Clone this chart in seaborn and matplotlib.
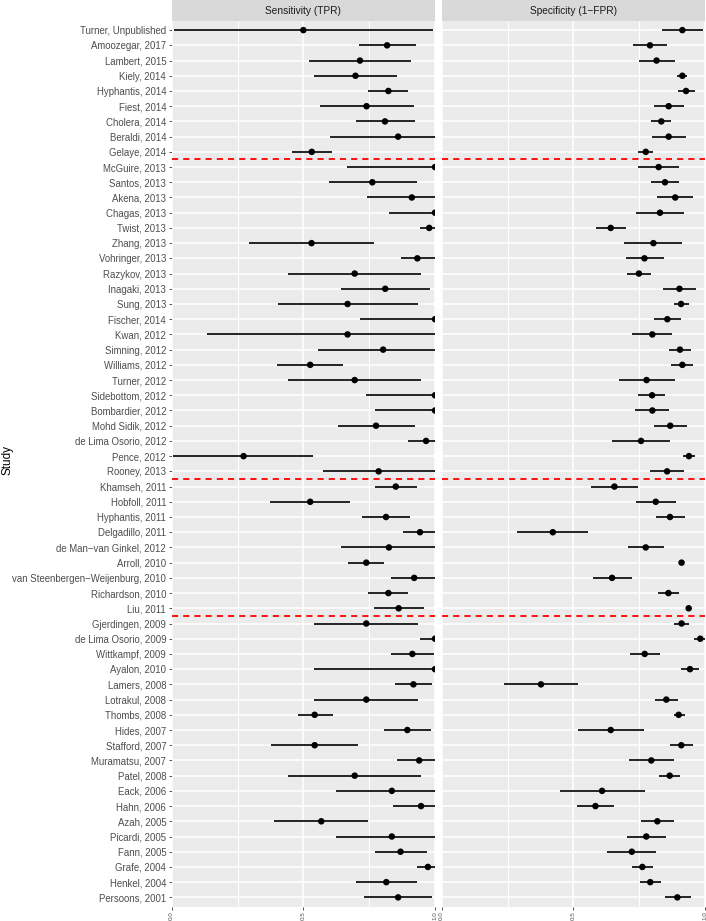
"""
Forest plot of per-study sensitivity and specificity, ggplot-like look.
"""

import numpy as np
import pandas as pd
import matplotlib
matplotlib.use("Agg")
import matplotlib.pyplot as plt
import seaborn as sns

studies = [
    "Turner, Unpublished", "Amoozegar, 2017", "Lambert, 2015", "Kiely, 2014",
    "Hyphantis, 2014", "Fiest, 2014", "Cholera, 2014", "Beraldi, 2014",
    "Gelaye, 2014", "McGuire, 2013", "Santos, 2013", "Akena, 2013",
    "Chagas, 2013", "Twist, 2013", "Zhang, 2013", "Vohringer, 2013",
    "Razykov, 2013", "Inagaki, 2013", "Sung, 2013", "Fischer, 2014",
    "Kwan, 2012", "Simning, 2012", "Williams, 2012", "Turner, 2012",
    "Sidebottom, 2012", "Bombardier, 2012", "Mohd Sidik, 2012",
    "de Lima Osorio, 2012", "Pence, 2012", "Rooney, 2013", "Khamseh, 2011",
    "Hobfoll, 2011", "Hyphantis, 2011", "Delgadillo, 2011",
    "de Man\u2212van Ginkel, 2012", "Arroll, 2010",
    "van Steenbergen\u2212Weijenburg, 2010", "Richardson, 2010", "Liu, 2011",
    "Gjerdingen, 2009", "de Lima Osorio, 2009", "Wittkampf, 2009",
    "Ayalon, 2010", "Lamers, 2008", "Lotrakul, 2008", "Thombs, 2008",
    "Hides, 2007", "Stafford, 2007", "Muramatsu, 2007", "Patel, 2008",
    "Eack, 2006", "Hahn, 2006", "Azah, 2005", "Picardi, 2005", "Fann, 2005",
    "Grafe, 2004", "Henkel, 2004", "Persoons, 2001",
]

# number of studies in each block (red dashed separators between blocks)
group_sizes = [9, 21, 9, 19]

sens = [0.50, 0.818, 0.715, 0.698, 0.823, 0.740, 0.810, 0.860, 0.532, 1.0,
        0.762, 0.912, 1.0, 0.978, 0.531, 0.933, 0.695, 0.811, 0.668, 1.0,
        0.668, 0.803, 0.526, 0.695, 1.0, 1.0, 0.776, 0.966, 0.273, 0.786,
        0.851, 0.526, 0.814, 0.943, 0.825, 0.739, 0.921, 0.823, 0.862,
        0.739, 1.0, 0.914, 1.0, 0.918, 0.739, 0.543, 0.895, 0.543, 0.940,
        0.695, 0.836, 0.947, 0.568, 0.836, 0.869, 0.973, 0.815, 0.860]
sens_lo = [0.01, 0.711, 0.523, 0.542, 0.747, 0.563, 0.700, 0.600, 0.457, 0.667,
           0.597, 0.742, 0.827, 0.943, 0.293, 0.871, 0.443, 0.644, 0.403, 0.717,
           0.133, 0.554, 0.401, 0.443, 0.739, 0.771, 0.630, 0.898, 0.005, 0.573,
           0.772, 0.375, 0.723, 0.880, 0.644, 0.670, 0.834, 0.747, 0.767,
           0.540, 0.943, 0.832, 0.542, 0.848, 0.541, 0.479, 0.808, 0.378, 0.856,
           0.443, 0.623, 0.842, 0.390, 0.623, 0.771, 0.933, 0.700, 0.730]
sens_hi = [0.993, 0.927, 0.910, 0.856, 0.899, 0.921, 0.923, 1.0, 0.610, 1.0,
           0.930, 1.0, 1.0, 0.999, 0.768, 0.999, 0.945, 0.980, 0.935, 1.0,
           1.0, 1.0, 0.650, 0.945, 1.0, 1.0, 0.923, 1.0, 0.537, 1.0,
           0.930, 0.677, 0.905, 1.0, 1.0, 0.808, 1.0, 0.899, 0.959,
           0.937, 1.0, 0.997, 1.0, 0.989, 0.937, 0.611, 0.985, 0.709, 1.0,
           0.946, 1.0, 1.0, 0.747, 1.0, 0.969, 1.0, 0.933, 0.989]

spec = [0.914, 0.791, 0.816, 0.914, 0.928, 0.862, 0.834, 0.862, 0.775, 0.824,
        0.848, 0.887, 0.829, 0.642, 0.804, 0.770, 0.749, 0.903, 0.909, 0.857,
        0.800, 0.905, 0.914, 0.778, 0.799, 0.800, 0.868, 0.757, 0.939, 0.856,
        0.656, 0.813, 0.867, 0.422, 0.775, 0.911, 0.647, 0.861, 0.938,
        0.911, 0.982, 0.771, 0.943, 0.377, 0.853, 0.900, 0.642, 0.910, 0.796,
        0.866, 0.609, 0.584, 0.819, 0.777, 0.722, 0.762, 0.792, 0.895]
spec_lo = [0.835, 0.728, 0.749, 0.894, 0.897, 0.806, 0.795, 0.797, 0.746, 0.746,
           0.794, 0.818, 0.739, 0.586, 0.694, 0.699, 0.704, 0.839, 0.881, 0.806,
           0.724, 0.862, 0.871, 0.673, 0.747, 0.735, 0.808, 0.648, 0.916, 0.791,
           0.566, 0.738, 0.813, 0.287, 0.709, 0.905, 0.573, 0.822, 0.933,
           0.884, 0.959, 0.715, 0.908, 0.235, 0.810, 0.881, 0.518, 0.867, 0.711,
           0.827, 0.451, 0.515, 0.758, 0.704, 0.629, 0.723, 0.752, 0.847]
spec_hi = [0.994, 0.857, 0.885, 0.933, 0.961, 0.919, 0.872, 0.927, 0.804, 0.901,
           0.901, 0.956, 0.922, 0.699, 0.913, 0.843, 0.795, 0.967, 0.938, 0.908,
           0.875, 0.948, 0.954, 0.885, 0.849, 0.865, 0.930, 0.867, 0.963, 0.922,
           0.747, 0.889, 0.923, 0.556, 0.843, 0.917, 0.722, 0.901, 0.943,
           0.939, 1.0, 0.828, 0.978, 0.519, 0.896, 0.923, 0.767, 0.956, 0.884,
           0.905, 0.771, 0.654, 0.882, 0.851, 0.814, 0.803, 0.832, 0.946]

panels = ["Sensitivity (TPR)", "Specificity (1\u2212FPR)"]
x_ticks = [0.0, 0.5, 1.0]
x_tick_labels = ["0.0", "0.5", "1.0"]

df = pd.concat([
    pd.DataFrame({"study": studies, "row": np.arange(len(studies)),
                  "panel": panels[0], "est": sens, "lo": sens_lo, "hi": sens_hi}),
    pd.DataFrame({"study": studies, "row": np.arange(len(studies)),
                  "panel": panels[1], "est": spec, "lo": spec_lo, "hi": spec_hi}),
])

sns.set_theme(style="darkgrid")
plt.rcParams["font.family"] = ["Liberation Sans", "DejaVu Sans"]

W, H = 706, 921
fig = plt.figure(figsize=(W / 100, H / 100), dpi=100)

panel_top, panel_bot = 21, 906.5
strip_h = 21
lefts = [171.7, 441.7]
pw = 263.3

sep_rows = np.cumsum(group_sizes)[:-1] - 0.5
n = len(studies)

for i, name in enumerate(panels):
    ax = fig.add_axes([lefts[i] / W, 1 - panel_bot / H, pw / W,
                       (panel_bot - panel_top) / H])
    ax.set_facecolor("#EBEBEB")
    sub = df[df["panel"] == name]

    ax.hlines(sub["row"], sub["lo"], sub["hi"], color="black", lw=1.2, zorder=3)
    sns.scatterplot(data=sub, x="est", y="row", ax=ax, color="black", s=22,
                    edgecolor="none", zorder=4, legend=False)
    for r in sep_rows:
        ax.axhline(r, color="red", lw=1.3, ls=(0, (3.4, 2.8)), zorder=5)

    ax.set_xlim(0, 1)
    ax.set_ylim(n - 0.4, -0.6)
    ax.grid(False)
    for v in [0.25, 0.75]:
        ax.axvline(v, color="white", lw=0.8, zorder=1)
    for v in x_ticks:
        ax.axvline(v, color="white", lw=1.1, zorder=1)
    for r in range(n):
        ax.axhline(r, color="white", lw=1.1, zorder=1)

    ax.set_xticks(x_ticks)
    ax.set_xticklabels(x_tick_labels, rotation=90, fontsize=4.5, color="#4D4D4D")
    ax.tick_params(axis="x", length=2.2, width=0.6, color="#333333", pad=1.5,
                   bottom=True)
    ax.set_xlabel("")
    ax.set_yticks(np.arange(n))
    if i == 0:
        ax.set_yticklabels(studies, fontsize=6.9, color="#4D4D4D")
        ax.tick_params(axis="y", length=2.5, width=0.6, color="#333333", pad=1.5,
                       left=True)
    else:
        ax.set_yticklabels([])
        ax.tick_params(axis="y", length=0)
    ax.set_ylabel("")
    for s in ax.spines.values():
        s.set_visible(False)

    # facet strip
    sax = fig.add_axes([lefts[i] / W, 1 - panel_top / H, pw / W, strip_h / H])
    sax.set_facecolor("#D9D9D9")
    sax.set_xticks([])
    sax.set_yticks([])
    sax.grid(False)
    for s in sax.spines.values():
        s.set_visible(False)
    sax.text(0.5, 0.5, name, ha="center", va="center", fontsize=7.3,
             color="#1A1A1A", transform=sax.transAxes)

fig.text(8 / W, 1 - 460 / H, "Study", rotation=90, ha="center", va="center",
         fontsize=8.5, color="black")

fig.savefig("out.png", dpi=100)
plt.close(fig)
